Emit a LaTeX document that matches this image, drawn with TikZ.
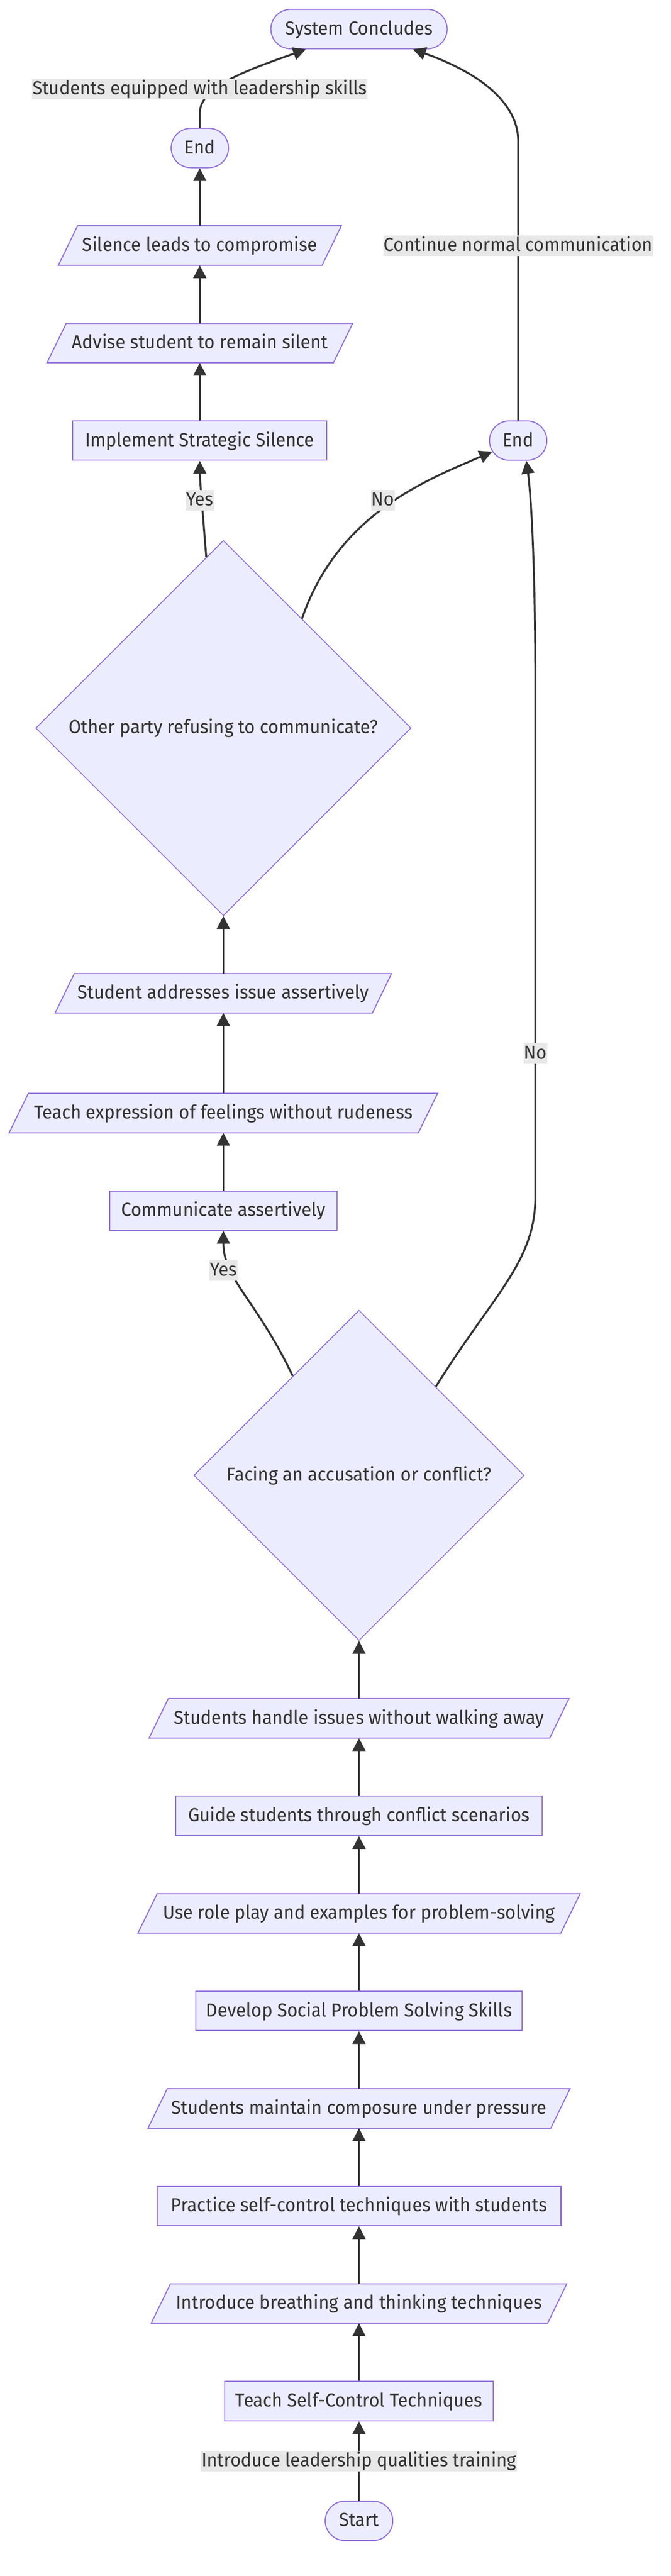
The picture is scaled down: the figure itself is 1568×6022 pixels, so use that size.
\documentclass[tikz,border=0pt]{standalone}
\usepackage{fontspec}
\setmainfont{Fira Sans}[FakeStretch=0.96]
\usetikzlibrary{arrows.meta,shapes.geometric,calc}
\definecolor{nfill}{HTML}{ECECFF}
\definecolor{nline}{HTML}{9370DB}
\definecolor{ntext}{HTML}{333333}
\definecolor{elabel}{HTML}{E8E8E8}
\pgfdeclarelayer{bg}
\pgfsetlayers{bg,main}
\newcommand\diafont{\fontsize{44pt}{52pt}\selectfont}
\newcommand\paranode[5]{%
  \node[paratext, minimum width=#4] (#1) at (#2,#3) {#5};
  \begin{pgfonlayer}{bg}
    \draw[parashape] ([xshift=22.5pt]#1.north west) -- ([xshift=22.5pt]#1.north east)
      -- ([xshift=-22.5pt]#1.south east) -- ([xshift=-22.5pt]#1.south west) -- cycle;
  \end{pgfonlayer}}
\tikzset{
  box/.style={draw=nline, fill=nfill, line width=2.5pt, text=ntext, font=\diafont,
    inner sep=0pt, minimum height=92pt, text height=31pt, text depth=5pt},
  rectbox/.style={box, rectangle},
  stadium/.style={box, rectangle, rounded corners=46pt},
  decision/.style={box, diamond, aspect=1, line width=2pt},
  paratext/.style={rectangle, text=ntext, font=\diafont, inner sep=0pt,
    minimum height=92pt, text height=31pt, text depth=5pt},
  parashape/.style={draw=nline, fill=nfill, line width=2.5pt},
  elab/.style={fill=elabel, text=ntext, font=\diafont, inner xsep=1pt, inner ysep=0pt,
    minimum height=48pt, text height=31pt, text depth=5pt},
  edge/.style={draw=ntext, line width=4.5pt, -{Triangle[length=30pt,width=30pt]}}
}
\begin{document}
\begin{tikzpicture}[x=1pt,y=-1pt]
\begin{pgfonlayer}{bg}
  \fill[white] (0,0) rectangle (1568,6022);
\end{pgfonlayer}
\useasboundingbox (0,0) rectangle (1568,6022);

% nodes
\node[stadium, minimum width=412pt] (sys) at (839,68) {System Concludes};
\node[stadium, minimum width=134pt] (endL) at (467,346) {End};
\paranode{silence}{467}{574}{616pt}{Silence leads to compromise}
\paranode{advise}{467}{802}{669pt}{Advise student to remain silent}
\node[rectbox, minimum width=594pt] (impl) at (467,1030) {Implement Strategic Silence};
\node[stadium, minimum width=134pt] (endR) at (1211,1030) {End};
\node[decision, minimum width=877pt, minimum height=877pt] (other) at (522,1702) {Other party refusing to communicate?};
\paranode{studAddr}{522}{2322}{741pt}{Student addresses issue assertively}
\paranode{teachExpr}{522}{2602}{956pt}{Teach expression of feelings without rudeness}
\node[rectbox, minimum width=531pt] (comm) at (522,2830) {Communicate assertively};
\node[decision, minimum width=772pt, minimum height=772pt] (facing) at (839,3449) {Facing an accusation or conflict?};
\paranode{handle}{839}{4017}{936pt}{Students handle issues without walking away}
\node[rectbox, minimum width=856pt] (guide) at (839,4245) {Guide students through conflict scenarios};
\paranode{roleplay}{839}{4473}{988pt}{Use role play and examples for problem-solving}
\node[rectbox, minimum width=762pt] (develop) at (839,4701) {Develop Social Problem Solving Skills};
\paranode{maintain}{839}{4929}{941pt}{Students maintain composure under pressure}
\node[rectbox, minimum width=944pt] (practice) at (839,5157) {Practice self-control techniques with students};
\paranode{breathing}{839}{5385}{926pt}{Introduce breathing and thinking techniques}
\node[rectbox, minimum width=628pt] (teachSC) at (839,5613) {Teach Self-Control Techniques};
\node[stadium, minimum width=158pt] (start) at (839,5893) {Start};

% edges
\draw[edge] (start) -- (teachSC);
\draw[edge] (teachSC) -- (breathing);
\draw[edge] (breathing) -- (practice);
\draw[edge] (practice) -- (maintain);
\draw[edge] (maintain) -- (develop);
\draw[edge] (develop) -- (roleplay);
\draw[edge] (roleplay) -- (guide);
\draw[edge] (guide) -- (handle);
\draw[edge] (handle) -- (facing);
\draw[edge] ($(facing.north)!0.4!(facing.west)$) .. controls (600,3040) and (522,2990) .. (comm.south);
\draw[edge] ($(facing.north)!0.464!(facing.east)$) .. controls (1150,3030) and (1251,2950) .. (1251,2800)
  -- (1251,1600) .. controls (1251,1300) and (1240,1150) .. ($(endR.south)+(19,0)$);
\draw[edge] (comm) -- (teachExpr);
\draw[edge] (teachExpr) -- (studAddr);
\draw[edge] (studAddr) -- (other);
\draw[edge] ($(other.north)!0.091!(other.west)$) .. controls (470,1150) and (467,1120) .. (impl.south);
\draw[edge] ($(other.north)!0.418!(other.east)$) .. controls (790,1200) and (1000,1121) .. ($(endR.center)+(-61,26)$);
\draw[edge] (impl) -- (advise);
\draw[edge] (advise) -- (silence);
\draw[edge] (silence) -- (endL);
\draw[edge] (endL.north) -- ++(0,-35) .. controls (467,200) and (590,160) .. ($(sys.south)+(-124,0)$);
\draw[edge] (endR.north) -- (1211,330) .. controls (1211,240) and (1120,170) .. ($(sys.south)+(126,0)$);

% edge labels
\node[elab] (lblStart) at (839,5753) {Introduce leadership qualities training};
\node[elab] (lblLead) at (467,208) {Students equipped with leadership skills};
\node[elab] (lblCont) at (1211,574) {Continue normal communication};
\node[elab] (lblYes1) at (467,1169) {Yes};
\node[elab] (lblNo1) at (895,1169) {No};
\node[elab] (lblYes2) at (522,2970) {Yes};
\node[elab] (lblNo2) at (1251,2463) {No};
\end{tikzpicture}
\end{document}
